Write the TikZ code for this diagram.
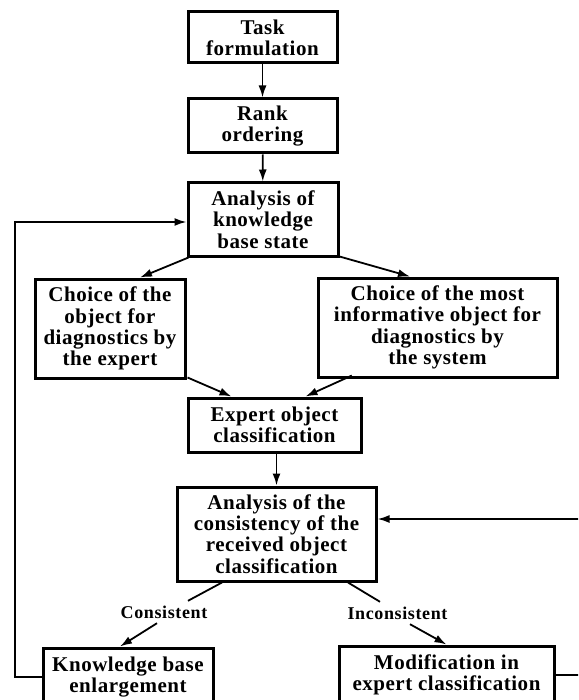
\documentclass[tikz,border=0pt]{standalone}
\usepackage{fontspec}
\setmainfont{Liberation Serif}[LetterSpace=2.5]
\newfontfamily\lblfont{Liberation Serif}[LetterSpace=3.5]
\usetikzlibrary{arrows.meta,calc}
\begin{document}
\begin{tikzpicture}[x=1pt,y=-1pt]
\tikzset{
  box/.style={draw, line width=3pt, align=center, inner sep=0pt,
    font=\bfseries\fontsize{21}{21.3}\selectfont},
  lbl/.style={font=\lblfont\bfseries\fontsize{18}{19}\selectfont, inner sep=0pt, minimum height=22pt},
  conn/.style={line width=1.8pt},
  arr/.style={conn, -{Latex[length=12pt,width=8pt]}}
}
\useasboundingbox (0,0) rectangle (578,700);
\fill[white] (0,0) rectangle (578,700);
\clip (0,0) rectangle (578,700);

\node[box, minimum width=149pt, minimum height=51pt] (task) at (262.5,37.5) {Task\\formulation};
\node[box, minimum width=149pt, minimum height=54pt] (rank) at (262.5,126) {Rank\\ordering};
\node[box, minimum width=150pt, minimum height=73pt] (akb) at (263,219.5) {Analysis of\\knowledge\\base state};
\node[box, minimum width=150pt, minimum height=99pt] (chL) at (110,328.5) {Choice of the\\object for\\diagnostics by\\the expert};
\node[box, minimum width=239pt, minimum height=99pt] (chR) at (437.5,327.5) {Choice of the most\\informative object for\\diagnostics by\\the system};
\node[box, minimum width=173pt, minimum height=54pt] (exp) at (274.5,425) {Expert object\\classification};
\node[box, minimum width=199pt, minimum height=94pt] (cons) at (276.5,534) {Analysis of the\\consistency of the\\received object\\classification};
\node[box, minimum width=170pt, minimum height=58pt] (know) at (128,677) {Knowledge base\\enlargement};
\node[box, minimum width=215pt, minimum height=58pt] (mod) at (446.5,675) {Modification in\\expert classification};

\node[lbl] (lblC) at (164,612) {Consistent};
\node[lbl] (lblI) at (397.5,613) {Inconsistent};

\coordinate (L1) at (15,677);
\coordinate (L2) at (15,222);
\coordinate (R1) at (590,675);
\coordinate (R2) at (590,519);

\draw[arr] (task) -- (rank);
\draw[arr] (rank) -- (akb);
\draw[arr] ($(akb.south west)+(2,0)$) -- ($(chL.north)+(30,0)$);
\draw[arr] ($(akb.south east)+(0,-1)$) -- ($(chR.north)+(-27.5,0)$);
\draw[arr] ($(chL.south east)+(1,-2)$) -- ($(exp.north west)+(45,0)$);
\draw[arr] ($(chR.north west)!0.146!(chR.north east)+(0,99)$) -- ($(exp.north west)+(119,0)$);
\draw[arr] (cons.north |- exp.south) -- (cons.north);

\draw[conn] ($(cons.south)+(-54.5,0)$) -- ($(lblC.north)+(24,0)$);
\draw[arr] ($(lblC.south)+(-7,0)$) -- ($(know.north)+(-8,0)$);
\draw[conn] ($(cons.south)+(71.5,0)$) -- ($(lblI.north)+(-17.5,0)$);
\draw[arr] ($(lblI.south)+(12.5,0)$) -- (mod.north);

\draw[arr] (know.west) -- (L1) -- (L2) -- (akb.west |- L2);
\draw[arr] (mod.east) -- (R1) -- (R2) -- (cons.east |- R2);
\end{tikzpicture}
\end{document}
